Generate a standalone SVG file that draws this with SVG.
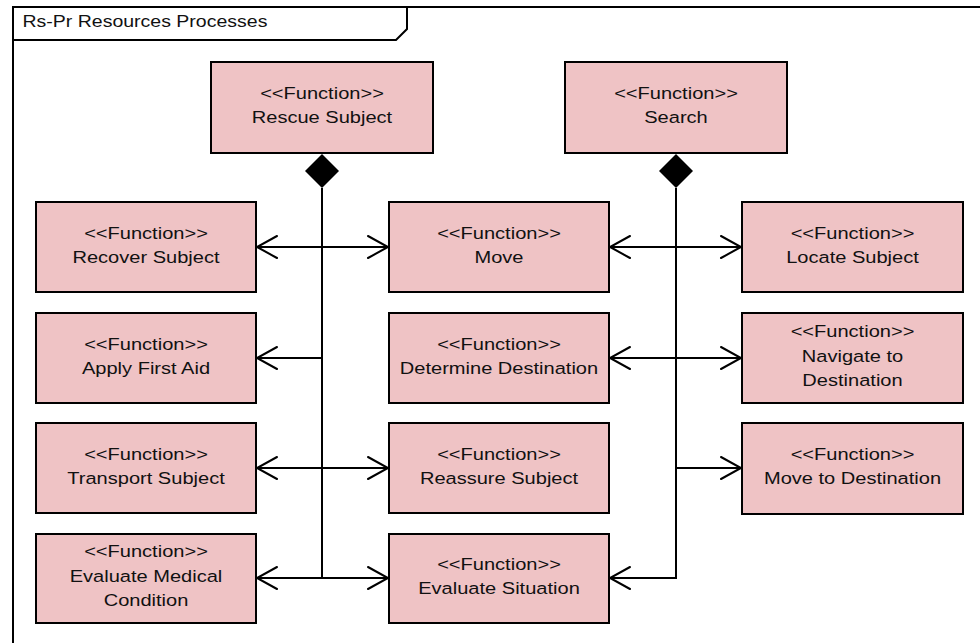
<svg xmlns="http://www.w3.org/2000/svg" width="980" height="643" viewBox="0 0 980 643">
  <style>
    .box { fill: #efc3c5; stroke: #000; stroke-width: 2; }
    .lbl { font-family: "Liberation Sans", Arial, sans-serif; font-size: 17px; fill: #111; text-anchor: middle; }
    .title { font-family: "Liberation Sans", Arial, sans-serif; font-size: 16px; fill: #111; }
    .frame { fill: none; stroke: #000; stroke-width: 2; }
    .wire { fill: none; stroke: #000; stroke-width: 2; }
    .head { fill: none; stroke: #000; stroke-width: 2; stroke-linecap: round; stroke-linejoin: miter; }
  </style>

  <rect x="0" y="0" width="980" height="643" fill="#fff"/>

  <!-- frame with title tab -->
  <g id="frame">
    <path class="frame" d="M13,643 V7 H980"/>
    <path class="frame" d="M13,40 H396 L407,29 V7"/>
    <text class="title" transform="translate(22.5,27) scale(1.22,1)" x="0" y="0">Rs-Pr Resources Processes</text>
  </g>

  <!-- connectors -->
  <g id="connectors">
    <!-- Rescue Subject composition -->
    <polygon points="322,154 339,171 322,188 305,171" fill="#000"/>
    <path class="wire" d="M322,188 V578"/>
    <path class="wire" d="M257,247 H388"/>
    <path class="wire" d="M257,358 H322"/>
    <path class="wire" d="M257,468 H388"/>
    <path class="wire" d="M257,578 H388"/>
    <!-- Search composition -->
    <polygon points="676,154 693,171 676,188 659,171" fill="#000"/>
    <path class="wire" d="M676,188 V578 H610"/>
    <path class="wire" d="M610,247 H741"/>
    <path class="wire" d="M610,358 H741"/>
    <path class="wire" d="M676,468 H741"/>
    <!-- open arrowheads -->
    <g class="head">
      <path d="M277,236 L257,247 L277,258"/>
      <path d="M368,236 L388,247 L368,258"/>
      <path d="M277,347 L257,358 L277,369"/>
      <path d="M277,457 L257,468 L277,479"/>
      <path d="M368,457 L388,468 L368,479"/>
      <path d="M277,567 L257,578 L277,589"/>
      <path d="M368,567 L388,578 L368,589"/>
      <path d="M630,236 L610,247 L630,258"/>
      <path d="M721,236 L741,247 L721,258"/>
      <path d="M630,347 L610,358 L630,369"/>
      <path d="M721,347 L741,358 L721,369"/>
      <path d="M721,457 L741,468 L721,479"/>
      <path d="M630,567 L610,578 L630,589"/>
    </g>
  </g>

  <!-- top functions -->
  <g id="rescue-subject">
    <rect class="box" x="211" y="62" width="222" height="91"/>
    <text class="lbl" transform="translate(322,0) scale(1.18,1)"><tspan x="0" y="99">&lt;&lt;Function&gt;&gt;</tspan><tspan x="0" y="123">Rescue Subject</tspan></text>
  </g>
  <g id="search">
    <rect class="box" x="565" y="62" width="222" height="91"/>
    <text class="lbl" transform="translate(676,0) scale(1.18,1)"><tspan x="0" y="99">&lt;&lt;Function&gt;&gt;</tspan><tspan x="0" y="123">Search</tspan></text>
  </g>

  <!-- left column -->
  <g id="recover-subject">
    <rect class="box" x="36" y="202" width="220" height="90"/>
    <text class="lbl" transform="translate(146,0) scale(1.18,1)"><tspan x="0" y="239">&lt;&lt;Function&gt;&gt;</tspan><tspan x="0" y="263">Recover Subject</tspan></text>
  </g>
  <g id="apply-first-aid">
    <rect class="box" x="36" y="313" width="220" height="90"/>
    <text class="lbl" transform="translate(146,0) scale(1.18,1)"><tspan x="0" y="350">&lt;&lt;Function&gt;&gt;</tspan><tspan x="0" y="374">Apply First Aid</tspan></text>
  </g>
  <g id="transport-subject">
    <rect class="box" x="36" y="423" width="220" height="90"/>
    <text class="lbl" transform="translate(146,0) scale(1.18,1)"><tspan x="0" y="460">&lt;&lt;Function&gt;&gt;</tspan><tspan x="0" y="484">Transport Subject</tspan></text>
  </g>
  <g id="evaluate-medical-condition">
    <rect class="box" x="36" y="534" width="220" height="89"/>
    <text class="lbl" transform="translate(146,0) scale(1.18,1)"><tspan x="0" y="557">&lt;&lt;Function&gt;&gt;</tspan><tspan x="0" y="582">Evaluate Medical</tspan><tspan x="0" y="606">Condition</tspan></text>
  </g>

  <!-- middle column -->
  <g id="move">
    <rect class="box" x="389" y="202" width="220" height="90"/>
    <text class="lbl" transform="translate(499,0) scale(1.18,1)"><tspan x="0" y="239">&lt;&lt;Function&gt;&gt;</tspan><tspan x="0" y="263">Move</tspan></text>
  </g>
  <g id="determine-destination">
    <rect class="box" x="389" y="313" width="220" height="90"/>
    <text class="lbl" transform="translate(499,0) scale(1.18,1)"><tspan x="0" y="350">&lt;&lt;Function&gt;&gt;</tspan><tspan x="0" y="374">Determine Destination</tspan></text>
  </g>
  <g id="reassure-subject">
    <rect class="box" x="389" y="423" width="220" height="90"/>
    <text class="lbl" transform="translate(499,0) scale(1.18,1)"><tspan x="0" y="460">&lt;&lt;Function&gt;&gt;</tspan><tspan x="0" y="484">Reassure Subject</tspan></text>
  </g>
  <g id="evaluate-situation">
    <rect class="box" x="389" y="534" width="220" height="89"/>
    <text class="lbl" transform="translate(499,0) scale(1.18,1)"><tspan x="0" y="570">&lt;&lt;Function&gt;&gt;</tspan><tspan x="0" y="594">Evaluate Situation</tspan></text>
  </g>

  <!-- right column -->
  <g id="locate-subject">
    <rect class="box" x="742" y="202" width="221" height="90"/>
    <text class="lbl" transform="translate(852.5,0) scale(1.18,1)"><tspan x="0" y="239">&lt;&lt;Function&gt;&gt;</tspan><tspan x="0" y="263">Locate Subject</tspan></text>
  </g>
  <g id="navigate-to-destination">
    <rect class="box" x="742" y="313" width="221" height="90"/>
    <text class="lbl" transform="translate(852.5,0) scale(1.18,1)"><tspan x="0" y="337">&lt;&lt;Function&gt;&gt;</tspan><tspan x="0" y="362">Navigate to</tspan><tspan x="0" y="386">Destination</tspan></text>
  </g>
  <g id="move-to-destination">
    <rect class="box" x="742" y="423" width="221" height="91"/>
    <text class="lbl" transform="translate(852.5,0) scale(1.18,1)"><tspan x="0" y="460">&lt;&lt;Function&gt;&gt;</tspan><tspan x="0" y="484">Move to Destination</tspan></text>
  </g>
</svg>
